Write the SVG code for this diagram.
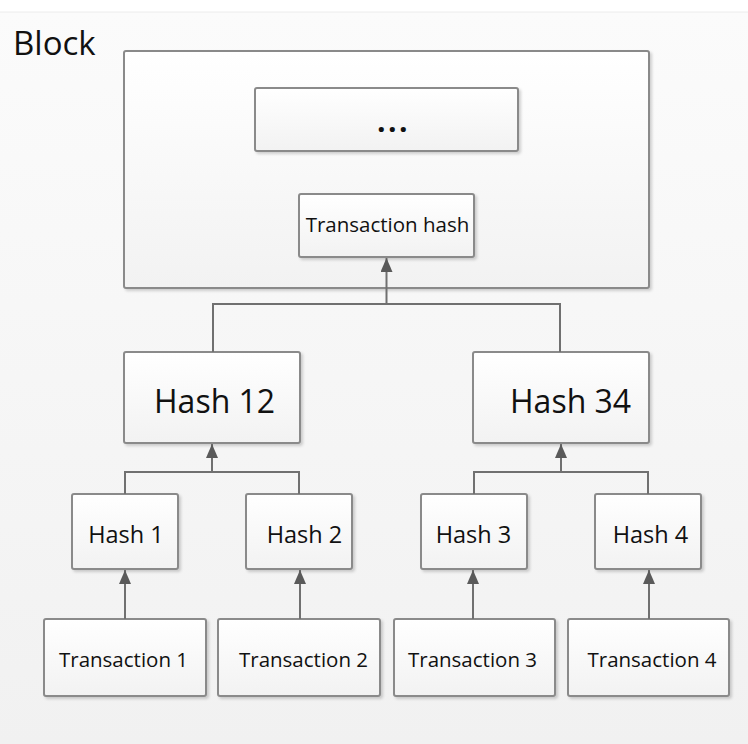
<svg xmlns="http://www.w3.org/2000/svg" width="748" height="744" viewBox="0 0 748 744">
  <defs>
    <linearGradient id="bg" x1="0" y1="0" x2="0" y2="1">
      <stop offset="0" stop-color="#fbfbfb"/>
      <stop offset="1" stop-color="#f1f1f1"/>
    </linearGradient>
    <linearGradient id="boxfill" x1="0" y1="0" x2="0" y2="1">
      <stop offset="0" stop-color="#ffffff"/>
      <stop offset="1" stop-color="#f2f2f2"/>
    </linearGradient>
    <filter id="shadow" x="-5%" y="-5%" width="115%" height="120%">
      <feGaussianBlur in="SourceAlpha" stdDeviation="1.5"/>
      <feOffset dx="1.5" dy="1.5" result="b"/>
      <feComponentTransfer><feFuncA type="linear" slope="0.18"/></feComponentTransfer>
      <feMerge><feMergeNode/><feMergeNode in="SourceGraphic"/></feMerge>
    </filter>
    <marker id="arrow" viewBox="0 0 14 12" refX="14" refY="6" markerWidth="14" markerHeight="12" markerUnits="userSpaceOnUse" orient="auto">
      <path d="M0,0 L14,6 L0,12 z" fill="#5a5a5a"/>
    </marker>
  </defs>
  <style>
    .box { fill: url(#boxfill); stroke: #8a8a8a; stroke-width: 2; filter: url(#shadow); }
    .conn { fill: none; stroke: #707070; stroke-width: 2; }
    .t { font-family: "Open Sans", "Noto Sans", sans-serif; fill: #111; }
  </style>
  <rect x="0" y="0" width="748" height="744" fill="#ffffff"/>
  <rect x="0" y="12" width="748" height="732" fill="url(#bg)"/>
  <line x1="0" y1="12" x2="748" y2="12" stroke="#ececec" stroke-width="1"/>

  <text class="t" x="13" y="55" font-size="33">Block</text>

  <g id="block">
    <rect class="box" x="124" y="51" width="525" height="237" rx="2"/>
  </g>
  <g id="dots">
    <rect class="box" x="255" y="88" width="263" height="63" rx="2"/>
    <text class="t" x="377" y="132" font-size="30" font-weight="bold" letter-spacing="2.5">...</text>
  </g>
  <g id="txhash">
    <rect class="box" x="299" y="194" width="175" height="63" rx="2"/>
    <text class="t" x="387.5" y="232" font-size="20.5" text-anchor="middle">Transaction hash</text>
  </g>

  <g id="hash12">
    <rect class="box" x="124" y="352" width="176" height="91" rx="2"/>
    <text class="t" x="154" y="413" font-size="32">Hash 12</text>
  </g>
  <g id="hash34">
    <rect class="box" x="473" y="352" width="176" height="91" rx="2"/>
    <text class="t" x="510" y="413" font-size="32">Hash 34</text>
  </g>

  <g id="hash1">
    <rect class="box" x="72" y="494" width="106" height="75" rx="2"/>
    <text class="t" x="126" y="543" font-size="23.5" text-anchor="middle">Hash 1</text>
  </g>
  <g id="hash2">
    <rect class="box" x="246" y="494" width="106" height="75" rx="2"/>
    <text class="t" x="304.5" y="543" font-size="23.5" text-anchor="middle">Hash 2</text>
  </g>
  <g id="hash3">
    <rect class="box" x="421" y="494" width="106" height="75" rx="2"/>
    <text class="t" x="473.5" y="543" font-size="23.5" text-anchor="middle">Hash 3</text>
  </g>
  <g id="hash4">
    <rect class="box" x="595" y="494" width="106" height="75" rx="2"/>
    <text class="t" x="650.5" y="543" font-size="23.5" text-anchor="middle">Hash 4</text>
  </g>

  <g id="tx1">
    <rect class="box" x="44" y="619" width="162" height="77" rx="2"/>
    <text class="t" x="123.5" y="667" font-size="20.5" text-anchor="middle">Transaction 1</text>
  </g>
  <g id="tx2">
    <rect class="box" x="218" y="619" width="162" height="77" rx="2"/>
    <text class="t" x="303.5" y="667" font-size="20.5" text-anchor="middle">Transaction 2</text>
  </g>
  <g id="tx3">
    <rect class="box" x="394" y="619" width="161" height="77" rx="2"/>
    <text class="t" x="472.5" y="667" font-size="20.5" text-anchor="middle">Transaction 3</text>
  </g>
  <g id="tx4">
    <rect class="box" x="568" y="619" width="161" height="77" rx="2"/>
    <text class="t" x="652" y="667" font-size="20.5" text-anchor="middle">Transaction 4</text>
  </g>

  <g id="connectors">
    <path class="conn" d="M213 352 V304 H560 V352"/>
    <path class="conn" d="M386.5 304 V258" marker-end="url(#arrow)"/>
    <path class="conn" d="M125 494 V472 H299 V494"/>
    <path class="conn" d="M212 472 V444" marker-end="url(#arrow)"/>
    <path class="conn" d="M474 494 V472 H648 V494"/>
    <path class="conn" d="M561 472 V444" marker-end="url(#arrow)"/>
    <path class="conn" d="M125 619 V570" marker-end="url(#arrow)"/>
    <path class="conn" d="M300 619 V570" marker-end="url(#arrow)"/>
    <path class="conn" d="M473 619 V570" marker-end="url(#arrow)"/>
    <path class="conn" d="M649 619 V570" marker-end="url(#arrow)"/>
  </g>
</svg>
